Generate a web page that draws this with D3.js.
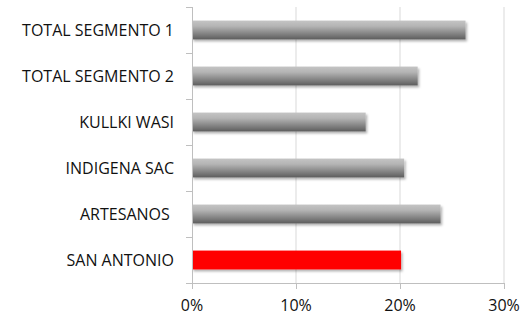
<meta charset="utf-8">
<script src="https://d3js.org/d3.v7.js"></script>
<style>
body { margin: 0; background: white; }
svg { font-family: 'Open Sans', 'Liberation Sans', sans-serif; }
</style>
<div id="chart"></div>
<script>
var categories = ["TOTAL SEGMENTO 1", "TOTAL SEGMENTO 2", "KULLKI WASI", "INDIGENA SAC", "ARTESANOS ", "SAN ANTONIO"];
var values = [0.263, 0.217, 0.167, 0.204, 0.239, 0.201];
var highlight = ["SAN ANTONIO"];
var xTicks = [0, 0.1, 0.2, 0.3];

var margin = {top: 7, right: 23, bottom: 35, left: 192},
    width = 527 - margin.left - margin.right,
    height = 318 - margin.top - margin.bottom;

var svg = d3.select("#chart").append("svg")
    .attr("width", 527).attr("height", 318);

var defs = svg.append("defs");
var grad = defs.append("linearGradient").attr("id", "grey").attr("x1", 0).attr("y1", 0).attr("x2", 0).attr("y2", 1);
grad.append("stop").attr("offset", "0%").attr("stop-color", "#c4c4c4");
grad.append("stop").attr("offset", "30%").attr("stop-color", "#b4b4b4");
grad.append("stop").attr("offset", "100%").attr("stop-color", "#5e5e5e");
var f = defs.append("filter").attr("id", "shadow").attr("x", "-5%").attr("y", "-20%").attr("width", "110%").attr("height", "160%");
f.append("feDropShadow").attr("dx", 1.5).attr("dy", 2).attr("stdDeviation", 1.2).attr("flood-color", "#000").attr("flood-opacity", 0.3);

var g = svg.append("g").attr("transform", "translate(" + margin.left + "," + margin.top + ")");

var x = d3.scaleLinear().domain([0, 0.3]).range([0, 312]);
var y = d3.scaleBand().domain(categories).range([0, height]).paddingInner(0.59).paddingOuter(0.295);

// gridlines
g.append("g").selectAll("line").data(xTicks.slice(1)).enter().append("line")
    .attr("x1", d => x(d)).attr("x2", d => x(d))
    .attr("y1", 0).attr("y2", height)
    .attr("stroke", "#d9d9d9").attr("stroke-width", 1);

// bars
g.append("g").selectAll("rect").data(categories).enter().append("rect")
    .attr("x", 0)
    .attr("y", d => y(d))
    .attr("width", (d, i) => x(values[i]))
    .attr("height", y.bandwidth())
    .attr("fill", d => highlight.includes(d) ? "#ff0000" : "url(#grey)")
    .attr("filter", "url(#shadow)");

// left axis
var yTickPos = d3.range(categories.length + 1).map(i => i * height / categories.length);
g.append("line").attr("x1", 0.5).attr("x2", 0.5).attr("y1", 0).attr("y2", height)
    .attr("stroke", "#bfbfbf");
g.append("g").selectAll("line").data(yTickPos).enter().append("line")
    .attr("x1", -6).attr("x2", 0).attr("y1", d => Math.round(d) + 0.5).attr("y2", d => Math.round(d) + 0.5)
    .attr("stroke", "#bfbfbf");
g.append("g").selectAll("text").data(categories).enter().append("text")
    .attr("x", -18)
    .attr("y", d => y(d) + y.bandwidth() / 2)
    .attr("dy", "0.36em")
    .attr("text-anchor", "end")
    .style("white-space", "pre")
    .attr("font-size", 16)
    .attr("fill", "#111")
    .text(d => d);

// bottom axis
g.append("line").attr("x1", 0).attr("x2", width).attr("y1", height + 0.5).attr("y2", height + 0.5)
    .attr("stroke", "#bfbfbf");
g.append("g").selectAll("line").data(xTicks).enter().append("line")
    .attr("x1", d => Math.round(x(d)) + 0.5).attr("x2", d => Math.round(x(d)) + 0.5)
    .attr("y1", height).attr("y2", height + 6)
    .attr("stroke", "#bfbfbf");
g.append("g").selectAll("text").data(xTicks).enter().append("text")
    .attr("x", d => x(d))
    .attr("y", height + 28)
    .attr("text-anchor", "middle")
    .attr("font-size", 16)
    .attr("fill", "#111")
    .text(d3.format(".0%"));
</script>
